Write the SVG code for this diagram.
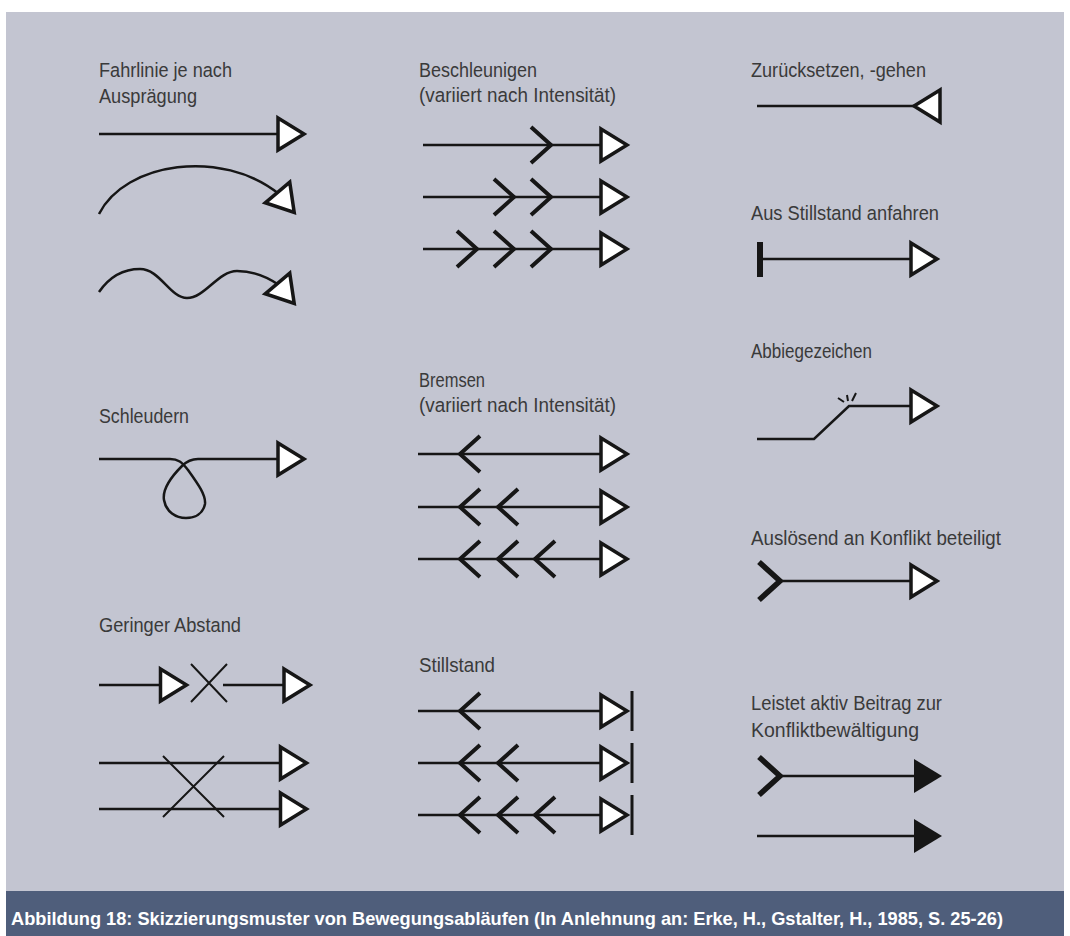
<svg xmlns="http://www.w3.org/2000/svg" xmlns:xlink="http://www.w3.org/1999/xlink" width="1070" height="936" viewBox="0 0 1070 936">
<style>
.lbl{font-family:"Liberation Sans Narrow","Liberation Sans",Arial,sans-serif;font-size:20.5px;fill:#3a3a3a}
.cap{font-family:"Liberation Sans Narrow","Liberation Sans",Arial,sans-serif;font-size:18.5px;font-weight:bold;fill:#ffffff}
.ln{fill:none;stroke:#161616;stroke-width:2.5}
.thin{fill:none;stroke:#161616;stroke-width:2}
.chev{fill:none;stroke:#161616;stroke-width:4;stroke-linejoin:miter}
.chevb{fill:none;stroke:#161616;stroke-width:5.5;stroke-linejoin:miter}
.bar{fill:none;stroke:#161616;stroke-width:3}
</style>
<defs>
<path id="tri" d="M0,-16 L26,0 L0,16 Z" fill="#ffffff" stroke="#161616" stroke-width="3.5" stroke-linejoin="miter"/>
<path id="ftri" d="M0,-17 L28,0 L0,17 Z" fill="#161616"/>
<path id="cr" d="M-20,-18 L0,0 L-20,18" class="chev"/>
<path id="cl" d="M20,-18 L0,0 L20,18" class="chev"/>
</defs>
<rect x="6" y="12" width="1058" height="879" fill="#c3c5d1"/>
<rect x="6" y="891" width="1058" height="45" fill="#4f5e7b"/>
<text class="cap" x="11" y="925" textLength="992" lengthAdjust="spacingAndGlyphs">Abbildung 18: Skizzierungsmuster von Bewegungsabläufen (In Anlehnung an: Erke, H., Gstalter, H., 1985, S. 25-26)</text>

<g id="connectors">
<g id="fahrlinie">
<text class="lbl" x="99" y="77" textLength="133" lengthAdjust="spacingAndGlyphs">Fahrlinie je nach</text>
<text class="lbl" x="99" y="103" textLength="98" lengthAdjust="spacingAndGlyphs">Ausprägung</text>
<path class="ln" d="M99,134 H279"/>
<use xlink:href="#tri" href="#tri" transform="translate(278,134)"/>
<path class="ln" d="M99,214 C125,162 222,148 279,194"/>
<use xlink:href="#tri" href="#tri" transform="translate(277.5,192.5) rotate(50)"/>
<path class="ln" d="M99,292 C110,276 125,269 140,269 C160,269 170,298 187,298 C205,298 218,271 237,271 C252,271 266,276 279,285"/>
<use xlink:href="#tri" href="#tri" transform="translate(277.5,283.5) rotate(50)"/>
</g>
<g id="schleudern">
<text class="lbl" x="99" y="423" textLength="90" lengthAdjust="spacingAndGlyphs">Schleudern</text>
<path class="ln" d="M99,459 H170 C178,459 182,462 188,470 C198,484 206,495 205,504 C203,514 195,518 186,518 C176,518 166,512 164,500 C162,488 172,476 182,466 C187,461 191,459 198,459 H279"/>
<use xlink:href="#tri" href="#tri" transform="translate(278,459)"/>
</g>
<g id="abstand">
<text class="lbl" x="99" y="632" textLength="142" lengthAdjust="spacingAndGlyphs">Geringer Abstand</text>
<path class="ln" d="M99,685 H161"/>
<use xlink:href="#tri" href="#tri" transform="translate(160.5,685)"/>
<path class="thin" d="M191,664 L227,702 M227,664 L191,702"/>
<path class="ln" d="M223,685 H285"/>
<use xlink:href="#tri" href="#tri" transform="translate(284,685)"/>
<path class="ln" d="M99,763 H281 M99,809 H281"/>
<use xlink:href="#tri" href="#tri" transform="translate(280.5,763)"/>
<use xlink:href="#tri" href="#tri" transform="translate(280.5,809)"/>
<path class="thin" d="M163,756 L224,817 M224,756 L163,817"/>
</g>
<g id="beschleunigen">
<text class="lbl" x="419" y="77" textLength="118" lengthAdjust="spacingAndGlyphs">Beschleunigen</text>
<text class="lbl" x="419" y="102" textLength="197" lengthAdjust="spacingAndGlyphs">(variiert nach Intensität)</text>
<path class="ln" d="M423,145 H602 M423,197 H602 M423,249 H602"/>
<use xlink:href="#tri" href="#tri" transform="translate(601,145)"/>
<use xlink:href="#tri" href="#tri" transform="translate(601,197)"/>
<use xlink:href="#tri" href="#tri" transform="translate(601,249)"/>
<use xlink:href="#cr" href="#cr" transform="translate(551,145)"/>
<use xlink:href="#cr" href="#cr" transform="translate(514,197)"/>
<use xlink:href="#cr" href="#cr" transform="translate(551,197)"/>
<use xlink:href="#cr" href="#cr" transform="translate(477,249)"/>
<use xlink:href="#cr" href="#cr" transform="translate(514,249)"/>
<use xlink:href="#cr" href="#cr" transform="translate(551,249)"/>
</g>
<g id="bremsen">
<text class="lbl" x="419" y="387" textLength="66" lengthAdjust="spacingAndGlyphs">Bremsen</text>
<text class="lbl" x="419" y="412" textLength="197" lengthAdjust="spacingAndGlyphs">(variiert nach Intensität)</text>
<path class="ln" d="M418,454 H602 M418,507 H602 M418,559 H602"/>
<use xlink:href="#tri" href="#tri" transform="translate(601,454)"/>
<use xlink:href="#tri" href="#tri" transform="translate(601,507)"/>
<use xlink:href="#tri" href="#tri" transform="translate(601,559)"/>
<use xlink:href="#cl" href="#cl" transform="translate(460,454)"/>
<use xlink:href="#cl" href="#cl" transform="translate(460,507)"/>
<use xlink:href="#cl" href="#cl" transform="translate(498,507)"/>
<use xlink:href="#cl" href="#cl" transform="translate(460,559)"/>
<use xlink:href="#cl" href="#cl" transform="translate(498,559)"/>
<use xlink:href="#cl" href="#cl" transform="translate(535,559)"/>
</g>
<g id="stillstand">
<text class="lbl" x="419" y="672" textLength="76" lengthAdjust="spacingAndGlyphs">Stillstand</text>
<path class="ln" d="M418,711 H602 M418,763 H602 M418,815 H602"/>
<use xlink:href="#tri" href="#tri" transform="translate(601,711)"/>
<use xlink:href="#tri" href="#tri" transform="translate(601,763)"/>
<use xlink:href="#tri" href="#tri" transform="translate(601,815)"/>
<path class="bar" d="M632,691 V731 M632,743 V783 M632,795 V835"/>
<use xlink:href="#cl" href="#cl" transform="translate(460,711)"/>
<use xlink:href="#cl" href="#cl" transform="translate(460,763)"/>
<use xlink:href="#cl" href="#cl" transform="translate(498,763)"/>
<use xlink:href="#cl" href="#cl" transform="translate(460,815)"/>
<use xlink:href="#cl" href="#cl" transform="translate(498,815)"/>
<use xlink:href="#cl" href="#cl" transform="translate(535,815)"/>
</g>
<g id="zuruecksetzen">
<text class="lbl" x="751" y="77" textLength="175" lengthAdjust="spacingAndGlyphs">Zurücksetzen, -gehen</text>
<path class="ln" d="M757,106 H916"/>
<use xlink:href="#tri" href="#tri" transform="translate(940,106) scale(-1,1)"/>
</g>
<g id="anfahren">
<text class="lbl" x="751" y="220" textLength="188" lengthAdjust="spacingAndGlyphs">Aus Stillstand anfahren</text>
<rect x="757" y="242" width="6" height="35" fill="#161616"/>
<path class="ln" d="M762,259 H912"/>
<use xlink:href="#tri" href="#tri" transform="translate(911,259)"/>
</g>
<g id="abbiegen">
<text class="lbl" x="751" y="358" textLength="121" lengthAdjust="spacingAndGlyphs">Abbiegezeichen</text>
<path class="ln" d="M757,439 H814 L849,406 H912"/>
<path class="thin" d="M838,398 L844,402 M847,395 L848,401 M856,393 L852,401"/>
<use xlink:href="#tri" href="#tri" transform="translate(911,406)"/>
</g>
<g id="ausloesend">
<text class="lbl" x="751" y="545" textLength="250" lengthAdjust="spacingAndGlyphs">Auslösend an Konflikt beteiligt</text>
<path class="chevb" d="M759,562 L780,581 L759,600"/>
<path class="ln" d="M780,581 H912"/>
<use xlink:href="#tri" href="#tri" transform="translate(911,581)"/>
</g>
<g id="leistet">
<text class="lbl" x="751" y="710" textLength="191" lengthAdjust="spacingAndGlyphs">Leistet aktiv Beitrag zur</text>
<text class="lbl" x="751" y="737" textLength="168" lengthAdjust="spacingAndGlyphs">Konfliktbewältigung</text>
<path class="chevb" d="M759,757 L780,776 L759,795"/>
<path class="ln" d="M780,776 H916"/>
<use xlink:href="#ftri" href="#ftri" transform="translate(914,776)"/>
<path class="ln" d="M757,836 H916"/>
<use xlink:href="#ftri" href="#ftri" transform="translate(914,836)"/>
</g>
</g>
</svg>
